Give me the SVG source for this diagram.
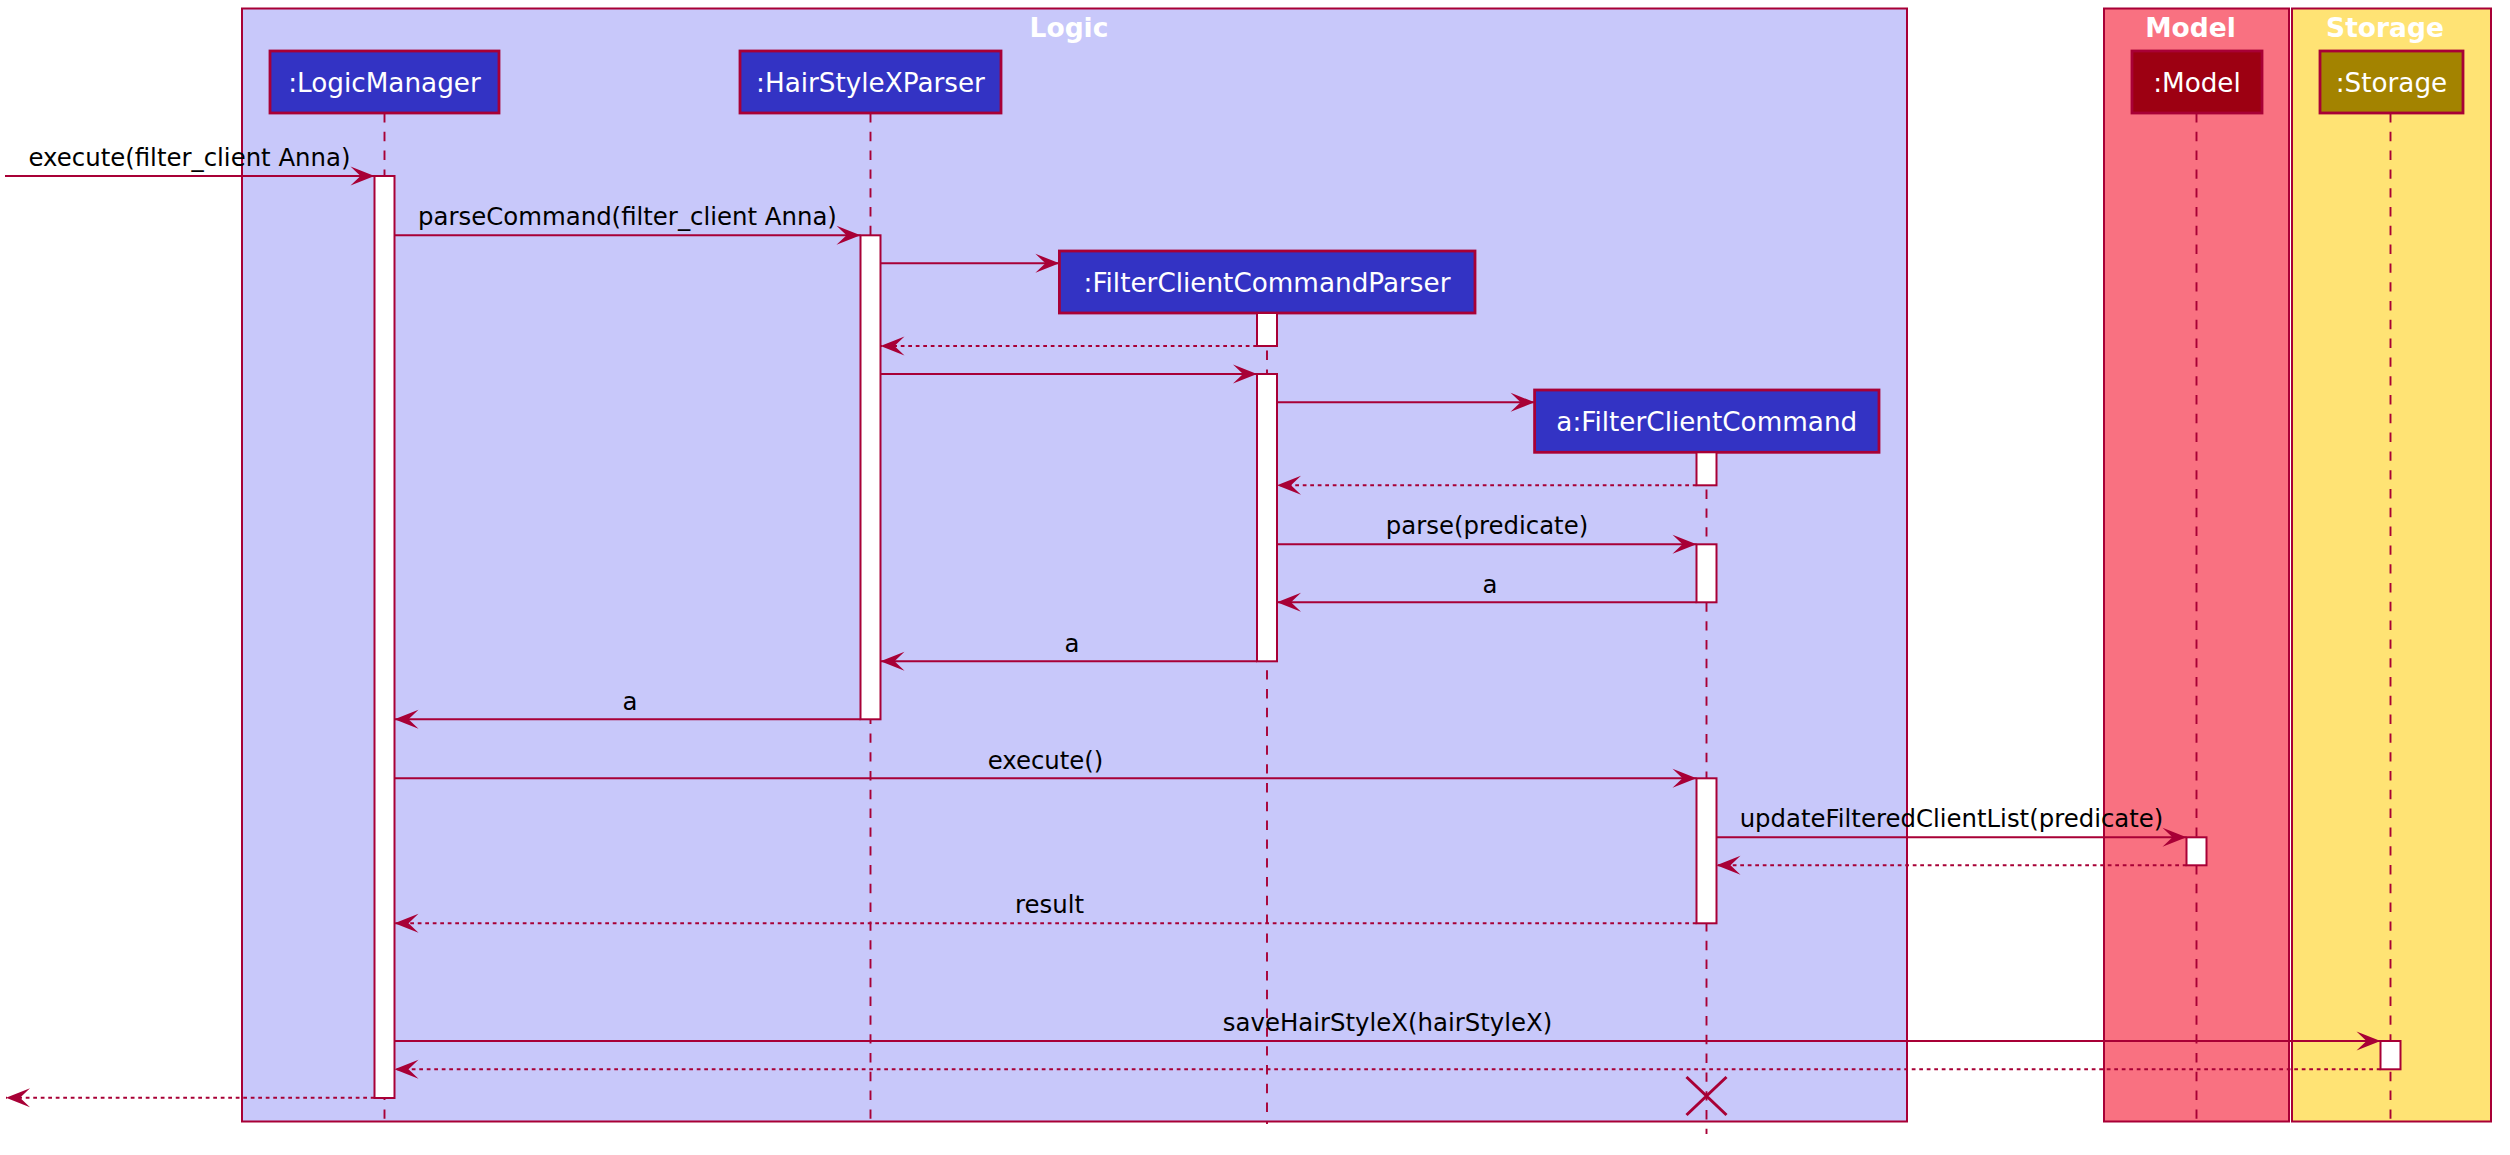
<svg xmlns="http://www.w3.org/2000/svg" width="2510" height="1155" viewBox="0 0 2510 1155">
<style>
.grp{stroke:#A80036;stroke-width:2}
.gtitle{font-family:"DejaVu Sans",sans-serif;font-weight:bold;font-size:26.5px;fill:#FFFFFF;text-anchor:middle}
.life{stroke:#A80036;stroke-width:1.9;stroke-dasharray:9.4,9.4;fill:none}
.part{stroke:#A80036;stroke-width:2.8}
.ptext{font-family:"DejaVu Sans",sans-serif;font-size:26.25px;fill:#FFFFFF;text-anchor:middle}
.act{fill:#FFFFFF;stroke:#A80036;stroke-width:2}
.msg{stroke:#A80036;stroke-width:2;fill:none;marker-end:url(#head)}
.ret{stroke:#A80036;stroke-width:2;fill:none;stroke-dasharray:3.75,3.75;marker-end:url(#head)}
.mtext{font-family:"DejaVu Sans",sans-serif;font-size:24.4px;fill:#000000;text-anchor:middle}
</style>
<defs>
<marker id="head" markerUnits="userSpaceOnUse" viewBox="-26 -11 27 22" markerWidth="27" markerHeight="22" refX="0" refY="0" orient="auto">
<path d="M0,0 L-24,-9.5 L-14,0 L-24,9.5 Z" fill="#A80036" stroke="none"/>
</marker>
</defs>
<rect width="2510" height="1155" fill="#FFFFFF"/>

<g id="box-logic">
<rect class="grp" x="242" y="8.5" width="1665" height="1113" fill="#C8C8FA"/>
<text class="gtitle" x="1069" y="36.5">Logic</text>
</g>
<g id="box-model">
<rect class="grp" x="2104" y="8.5" width="185" height="1113" fill="#F97181"/>
<text class="gtitle" x="2190.5" y="36.5">Model</text>
</g>
<g id="box-storage">
<rect class="grp" x="2292" y="8.5" width="199" height="1113" fill="#FFE374"/>
<text class="gtitle" x="2385" y="36.5">Storage</text>
</g>

<g id="lifelines">
<line class="life" x1="384.5" y1="113" x2="384.5" y2="1124"/>
<line class="life" x1="870.5" y1="113" x2="870.5" y2="1124"/>
<line class="life" x1="1267" y1="313" x2="1267" y2="1124"/>
<line class="life" x1="1706.5" y1="452" x2="1706.5" y2="1134"/>
<line class="life" x1="2196.5" y1="113" x2="2196.5" y2="1124"/>
<line class="life" x1="2390.5" y1="113" x2="2390.5" y2="1124"/>
</g>

<g id="LogicManager">
<rect class="part" x="270" y="51" width="229" height="62" fill="#3333C4"/>
<text class="ptext" x="384.5" y="91.5">:LogicManager</text>
<rect class="act" x="374.5" y="176" width="20" height="922"/>
</g>
<g id="HairStyleXParser">
<rect class="part" x="740" y="51" width="261" height="62" fill="#3333C4"/>
<text class="ptext" x="870.5" y="91.5">:HairStyleXParser</text>
<rect class="act" x="860.5" y="235.3" width="20" height="484"/>
</g>
<g id="FilterClientCommandParser">
<rect class="part" x="1059.4" y="251" width="415.6" height="62" fill="#3333C4"/>
<text class="ptext" x="1267" y="291.5">:FilterClientCommandParser</text>
<rect class="act" x="1257" y="313" width="20" height="33"/>
<rect class="act" x="1257" y="374" width="20" height="287.3"/>
</g>
<g id="FilterClientCommand">
<rect class="part" x="1534.6" y="390" width="344.4" height="62.3" fill="#3333C4"/>
<text class="ptext" x="1706.8" y="430.5">a:FilterClientCommand</text>
<rect class="act" x="1696.5" y="452.3" width="20" height="33"/>
<rect class="act" x="1696.5" y="544.3" width="20" height="58"/>
<rect class="act" x="1696.5" y="778.3" width="20" height="145"/>
<path d="M1686.5,1077 L1726.5,1115 M1726.5,1077 L1686.5,1115" stroke="#A80036" stroke-width="3" fill="none"/>
</g>
<g id="Model">
<rect class="part" x="2132" y="51" width="130" height="62" fill="#9D0012"/>
<text class="ptext" x="2197" y="91.5">:Model</text>
<rect class="act" x="2186.5" y="837.3" width="20" height="28"/>
</g>
<g id="Storage">
<rect class="part" x="2320" y="51" width="143" height="62" fill="#A38300"/>
<text class="ptext" x="2391.5" y="91.5">:Storage</text>
<rect class="act" x="2380.5" y="1041" width="20" height="28.3"/>
</g>

<g id="connectors">
<line class="msg" x1="5" y1="176" x2="374.5" y2="176"/>
<text class="mtext" x="189.5" y="166">execute(filter_client Anna)</text>
<line class="msg" x1="394.5" y1="235.3" x2="860.5" y2="235.3"/>
<text class="mtext" x="627.5" y="225">parseCommand(filter_client Anna)</text>
<line class="msg" x1="880.5" y1="263.3" x2="1059.4" y2="263.3"/>
<line class="ret" x1="1257" y1="346" x2="880.5" y2="346"/>
<line class="msg" x1="880.5" y1="374" x2="1257" y2="374"/>
<line class="msg" x1="1277" y1="402.3" x2="1534.6" y2="402.3"/>
<line class="ret" x1="1696.5" y1="485.3" x2="1277" y2="485.3"/>
<line class="msg" x1="1277" y1="544.3" x2="1696.5" y2="544.3"/>
<text class="mtext" x="1487" y="533.5">parse(predicate)</text>
<line class="msg" x1="1696.5" y1="602.3" x2="1277" y2="602.3"/>
<text class="mtext" x="1490" y="592.5">a</text>
<line class="msg" x1="1257" y1="661.3" x2="880.5" y2="661.3"/>
<text class="mtext" x="1072" y="651.5">a</text>
<line class="msg" x1="860.5" y1="719.3" x2="394.5" y2="719.3"/>
<text class="mtext" x="630" y="709.5">a</text>
<line class="msg" x1="394.5" y1="778.3" x2="1696.5" y2="778.3"/>
<text class="mtext" x="1045.5" y="768.5">execute()</text>
<line class="msg" x1="1716.5" y1="837.3" x2="2186.5" y2="837.3"/>
<text class="mtext" x="1951.5" y="827">updateFilteredClientList(predicate)</text>
<line class="ret" x1="2186.5" y1="865.3" x2="1716.5" y2="865.3"/>
<line class="ret" x1="1696.5" y1="923.3" x2="394.5" y2="923.3"/>
<text class="mtext" x="1049.5" y="913">result</text>
<line class="msg" x1="394.5" y1="1041" x2="2380.5" y2="1041"/>
<text class="mtext" x="1387.5" y="1030.5">saveHairStyleX(hairStyleX)</text>
<line class="ret" x1="2380.5" y1="1069.3" x2="394.5" y2="1069.3"/>
<line class="ret" x1="374.5" y1="1097.7" x2="6" y2="1097.7"/>
</g>
</svg>
